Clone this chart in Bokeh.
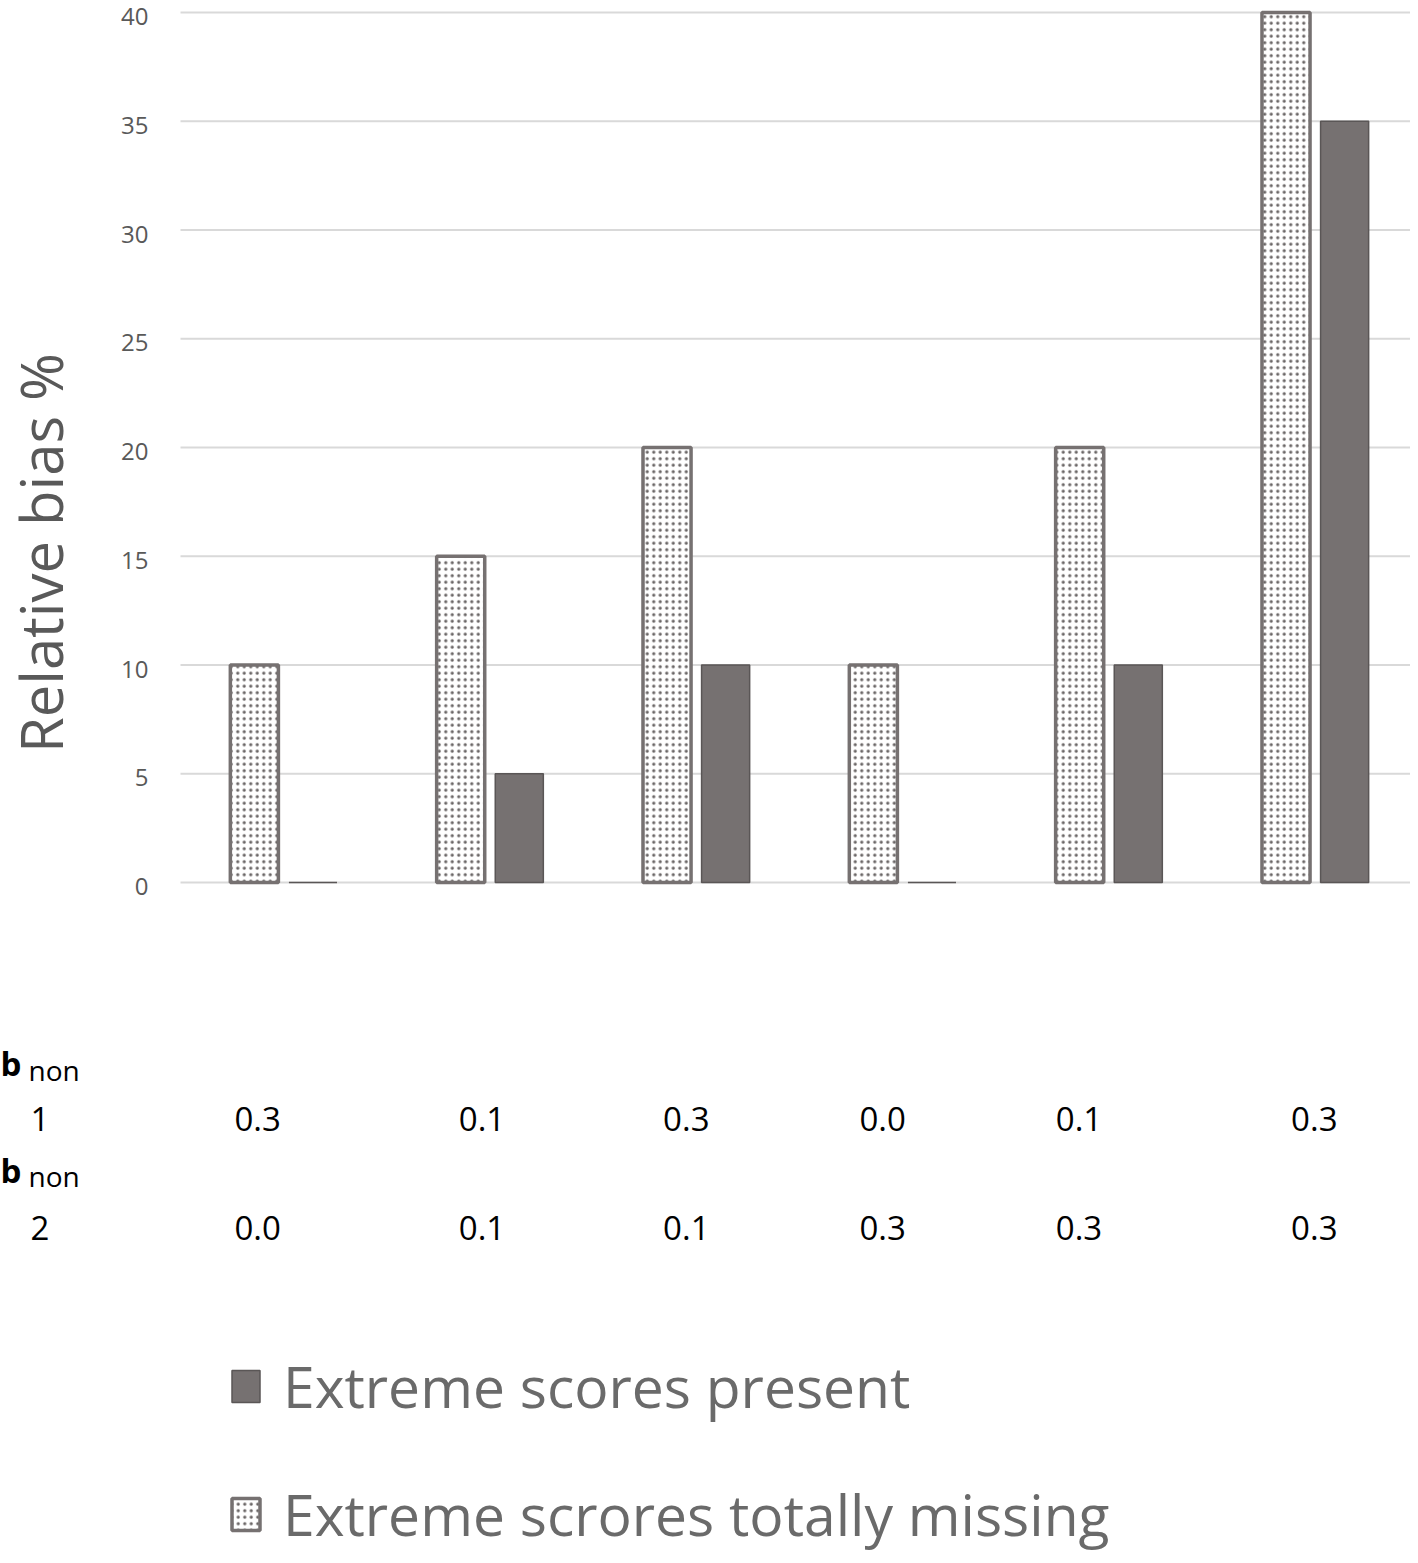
import math
from bokeh.plotting import figure
from bokeh.models import Range1d, Legend, LegendItem, ColumnDataSource
from bokeh.core.properties import value
from bokeh.embed import file_html
from bokeh.resources import INLINE

# ---- data ----
group_index = [0, 1, 2, 3, 4, 5]
missing_bias = [10, 15, 20, 10, 20, 40]   # Extreme scrores totally missing
present_bias = [0, 5, 10, 0, 10, 35]      # Extreme scores present
b_non1 = ["0.3", "0.1", "0.3", "0.0", "0.1", "0.3"]
b_non2 = ["0.0", "0.1", "0.1", "0.3", "0.3", "0.3"]
y_ticks = [0, 5, 10, 15, 20, 25, 30, 35, 40]
y_title = "Relative bias  %"
row_names = ["1", "2"]
legend_labels = ["Extreme scores present", "Extreme scrores totally missing"]

# ---- style / layout ----
W, H = 1410, 1555
PLOT_LEFT = 180          # px where the category axis starts
ZERO_Y = 882             # px of value 0
PX_X = 206.33            # px per category
PX_Y = 21.75             # px per unit of bias
BAR_W = 0.233
DODGE = 0.142
GRAY = "#767171"
TEXT_GRAY = "#595959"
FONT = "Open Sans"
table_offsets_px = [-26, -8, -10, -20, -30, -1]

def dx(px):
    return (px - PLOT_LEFT) / PX_X

def dy(py):
    return (ZERO_Y - py) / PX_Y

p = figure(width=W, height=H, output_backend="svg", toolbar_location=None,
           x_range=Range1d(dx(0), dx(W)), y_range=Range1d(dy(H), dy(0)),
           x_axis_location=None, y_axis_location=None,
           min_border_left=0, min_border_right=0, min_border_top=0, min_border_bottom=0)
p.outline_line_color = None
p.grid.visible = False
p.background_fill_color = "white"

x_right = len(group_index) * 1.0

# gridlines at the value ticks
p.segment(x0=[0] * len(y_ticks), x1=[x_right] * len(y_ticks), y0=y_ticks, y1=y_ticks,
          line_color="#d9d9d9", line_width=2)

# tick labels of the value axis (nudged down a little so the top one stays on the page)
p.text(x=[dx(148)] * len(y_ticks), y=[t - 4 / PX_Y for t in y_ticks],
       text=[str(t) for t in y_ticks],
       text_font=value(FONT), text_font_size="24px", text_color=TEXT_GRAY,
       text_align="right", text_baseline="middle")

# axis title
p.text(x=[dx(40)], y=[dy(545)], text=[y_title], angle=math.pi / 2,
       text_font=value(FONT), text_font_size="58px", text_color=TEXT_GRAY,
       text_align="center", text_baseline="middle")

centers = [g + 0.5 for g in group_index]
src = ColumnDataSource(dict(
    xm=[c - DODGE for c in centers], xp=[c + DODGE for c in centers],
    missing=missing_bias, present=present_bias))

r_missing = p.vbar(x="xm", top="missing", bottom=0, width=BAR_W, source=src,
                   fill_color="white", line_color=GRAY, line_width=3.5,
                   hatch_pattern="dot", hatch_color="#6a6666", hatch_scale=6.5, hatch_weight=3)
r_present = p.vbar(x="xp", top="present", bottom=0, width=BAR_W, source=src,
                   fill_color=GRAY, line_color="#5a5656", line_width=1.5)

# table below the chart
tx = [c + o / PX_X for c, o in zip(centers, table_offsets_px)]
tsrc = ColumnDataSource(dict(x=tx, y1=[dy(1118)] * 6, y2=[dy(1227)] * 6,
                             t1=b_non1, t2=b_non2))
for yk, tk in (("y1", "t1"), ("y2", "t2")):
    p.text(x="x", y=yk, text=tk, source=tsrc, text_font=value(FONT),
           text_font_size="33px", text_align="center", text_baseline="alphabetic",
           text_color="black")

# row labels "b non 1", "b non 2"
for name, (yb, yn, yr) in zip(row_names, [(1063, 1069, 1118), (1170, 1175, 1227)]):
    p.text(x=[dx(0)], y=[dy(yb)], text=["b"], text_font=value(FONT),
           text_font_size="33px", text_font_style="bold", text_color="black",
           text_align="left", text_baseline="alphabetic")
    p.text(x=[dx(28)], y=[dy(yn)], text=["non"], text_font=value(FONT),
           text_font_size="28px", text_color="black",
           text_align="left", text_baseline="alphabetic")
    p.text(x=[dx(30)], y=[dy(yr)], text=[name], text_font=value(FONT),
           text_font_size="33px", text_color="black",
           text_align="left", text_baseline="alphabetic")

legend = Legend(items=[LegendItem(label=legend_labels[0], renderers=[r_present]),
                       LegendItem(label=legend_labels[1], renderers=[r_missing])],
                location=(228, 2), orientation="vertical",
                label_text_font=FONT, label_text_font_size="57px",
                label_text_color="#6a6a6a", label_height=60, glyph_height=40,
                glyph_width=35, label_standoff=20, spacing=50, padding=0, margin=0,
                border_line_color=None, background_fill_alpha=0)
p.add_layout(legend)

open("out.html", "w").write(file_html(p, INLINE))
